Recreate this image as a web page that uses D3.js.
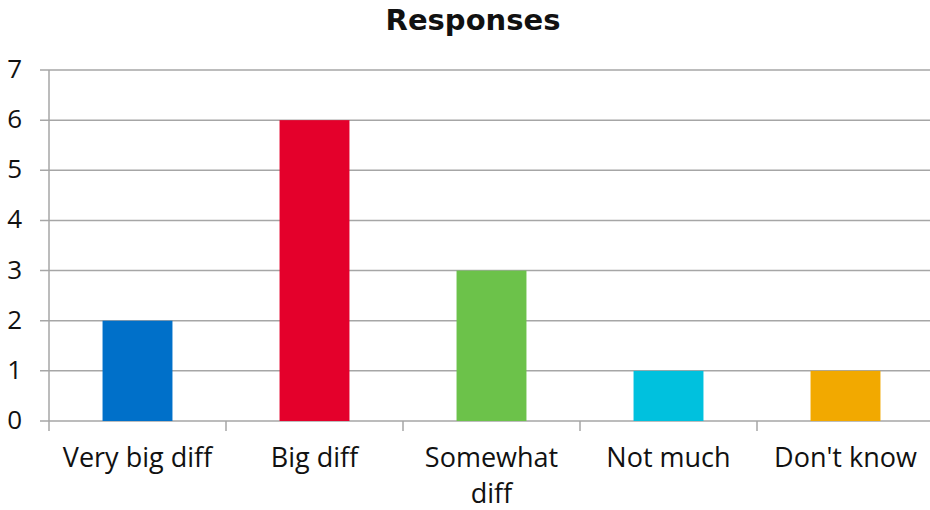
<!DOCTYPE html>
<html>
<head>
<meta charset="utf-8">
<script src="https://cdn.jsdelivr.net/npm/d3@7"></script>
<style>
  body { margin: 0; background: #fff; }
  text { font-family: "Open Sans", Lato, sans-serif; fill: #111; }
</style>
</head>
<body>
<div id="chart"></div>
<script>
let categories = ["Very big diff", "Big diff", "Somewhat diff", "Not much", "Don't know"];
let values = [2, 6, 3, 1, 1];
let colors = ["#0070c9", "#e4002b", "#6cc24a", "#00c1de", "#f2a900"];
let yTicks = [0, 1, 2, 3, 4, 5, 6, 7];

let w = 930, h = 510;
let plot_left = 49, plot_right = 934, plot_top = 70, plot_bottom = 421;

let svg = d3.select("#chart").append("svg")
    .attr("width", w)
    .attr("height", h);

let x = d3.scaleBand().domain(categories).range([plot_left, plot_right]).paddingInner(0).paddingOuter(0);
let y = d3.scaleLinear().domain([0, 7]).range([plot_bottom, plot_top]);

// gridlines
svg.append("g").selectAll("line")
    .data(yTicks)
    .enter()
    .append("line")
    .attr("x1", plot_left - 9)
    .attr("x2", plot_right)
    .attr("y1", d => y(d))
    .attr("y2", d => y(d))
    .attr("stroke", "#a6a6a6")
    .attr("stroke-width", 1.5);

// y labels
svg.append("g").selectAll("text")
    .data(yTicks)
    .enter()
    .append("text")
    .attr("x", 22)
    .attr("y", d => y(d) + 8)
    .attr("text-anchor", "end")
    .style("font-size", "26px")
    .text(d => d);

// bars
let bw = x.bandwidth() * 0.395;
svg.append("g").selectAll("rect")
    .data(values)
    .enter()
    .append("rect")
    .attr("x", (d, i) => x(categories[i]) + (x.bandwidth() - bw) / 2)
    .attr("y", d => y(d))
    .attr("width", bw)
    .attr("height", d => y(0) - y(d))
    .attr("fill", (d, i) => colors[i]);

// y axis line
svg.append("line")
    .attr("x1", plot_left).attr("x2", plot_left)
    .attr("y1", plot_top).attr("y2", plot_bottom + 10)
    .attr("stroke", "#a6a6a6")
    .attr("stroke-width", 1.5);

// x ticks at band edges
svg.append("g").selectAll("line")
    .data(categories.slice(1))
    .enter()
    .append("line")
    .attr("x1", d => x(d)).attr("x2", d => x(d))
    .attr("y1", plot_bottom).attr("y2", plot_bottom + 10)
    .attr("stroke", "#a6a6a6")
    .attr("stroke-width", 1.5);

// x labels, wrapped like the original (one text per line)
let wrapped = { "Somewhat diff": ["Somewhat", "diff"] };
categories.forEach(c => {
    let lines = wrapped[c] || [c];
    lines.forEach((l, i) => {
        svg.append("text")
            .attr("x", x(c) + x.bandwidth() / 2)
            .attr("y", 467 + i * 36)
            .attr("text-anchor", "middle")
            .style("font-size", "27px")
            .text(l);
    });
});

// title
svg.append("text")
    .attr("x", 473)
    .attr("y", 30)
    .attr("text-anchor", "middle")
    .style("font-family", "'DejaVu Sans', sans-serif")
    .style("font-size", "29px")
    .style("font-weight", "bold")
    .text("Responses");
</script>
</body>
</html>
